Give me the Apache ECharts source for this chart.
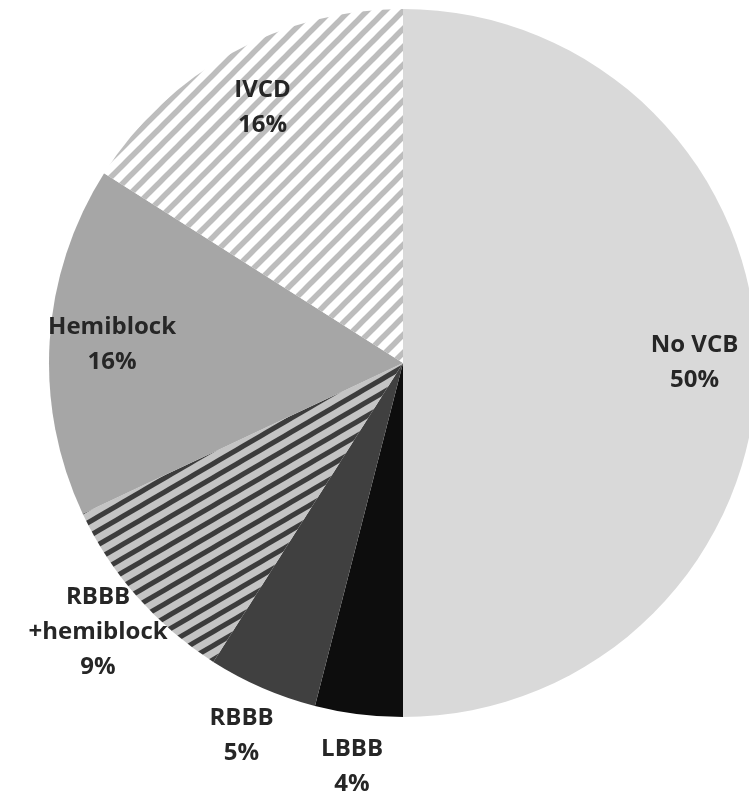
<!DOCTYPE html>
<html>
<head>
<meta charset="utf-8">
<script src="https://cdn.jsdelivr.net/npm/echarts@6/dist/echarts.min.js"></script>
<style>
  html, body { margin: 0; padding: 0; background: #ffffff; }
  #chart { width: 749px; height: 792px; }
</style>
</head>
<body>
<div id="chart"></div>
<script>
// Ventricular conduction block categories, clockwise from 12 o'clock
const categories = ['No VCB', 'LBBB', 'RBBB', 'RBBB +hemiblock', 'Hemiblock', 'IVCD'];
const shares = [50, 4, 5, 9, 16, 16];
// Which labels sit inside the pie and which sit just outside its rim
const insideLabel = [true, false, false, false, true, true];

const R = 354;
const CENTER = [403, 363];

// Diagonal stripe tile: lines x/w + y/h = k, rising to the right
function stripeTile(w, h, bg, fg, lw) {
  const c = document.createElement('canvas');
  c.width = w; c.height = h;
  const g = c.getContext('2d');
  g.fillStyle = bg;
  g.fillRect(0, 0, w, h);
  g.strokeStyle = fg;
  g.lineWidth = lw;
  for (let k = -1; k <= 3; k++) {
    g.beginPath();
    g.moveTo(-w, h * (k + 1));
    g.lineTo(2 * w, h * (k - 2));
    g.stroke();
  }
  return { image: c, repeat: 'repeat' };
}

const fills = [
  '#d9d9d9',
  '#0d0d0d',
  '#404040',
  stripeTile(24, 14, '#c4c4c4', '#3c3c3c', 5),
  '#a6a6a6',
  stripeTile(18, 18, '#ffffff', '#bdbdbd', 5.5)
];

const labelText = p => p.name.replace(' +', '\n+') + '\n' + p.value + '%';
const labelStyle = {
  fontFamily: 'Open Sans',
  fontWeight: 'bold',
  fontSize: 24,
  lineHeight: 35,
  color: '#262626',
  formatter: labelText
};

const pieData = categories.map((name, i) => ({
  name, value: shares[i], itemStyle: { color: fills[i] }
}));

function labelRing(radius, useInside) {
  return {
    type: 'pie',
    silent: true,
    center: CENTER,
    radius: radius,
    startAngle: 90,
    clockwise: true,
    avoidLabelOverlap: false,
    labelLine: { show: false },
    itemStyle: { color: 'rgba(0,0,0,0)', borderWidth: 0 },
    data: categories.map((name, i) => ({
      name, value: shares[i],
      label: Object.assign({ show: insideLabel[i] === useInside, position: 'inside' }, labelStyle)
    }))
  };
}

const chart = echarts.init(document.getElementById('chart'), null, { renderer: 'canvas' });
chart.setOption({
  backgroundColor: '#ffffff',
  animation: false,
  series: [
    {
      type: 'pie',
      center: CENTER,
      radius: [0, R],
      startAngle: 90,
      clockwise: true,
      label: { show: false },
      labelLine: { show: false },
      itemStyle: { borderWidth: 0 },
      data: pieData
    },
    labelRing([R * 0.63, R], true),
    labelRing([R, R * 1.28], false)
  ]
});
</script>
</body>
</html>
